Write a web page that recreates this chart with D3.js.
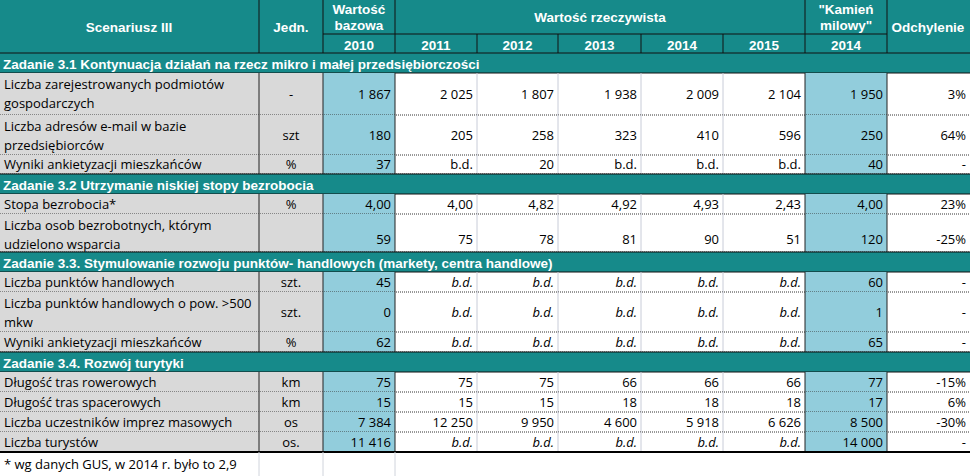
<!DOCTYPE html>
<html><head><meta charset="utf-8">
<script src="https://cdn.jsdelivr.net/npm/d3@7"></script>
<style>body{margin:0;background:#fff}</style></head><body>
<svg id="c" width="970" height="476"></svg>
<script>
const years = ["2010","2011","2012","2013","2014","2015","2014"];
const sections = ["Zadanie 3.1 Kontynuacja działań na rzecz mikro i małej przedsiębiorczości",
 "Zadanie 3.2 Utrzymanie niskiej stopy bezrobocia",
 "Zadanie 3.3. Stymulowanie rozwoju punktów- handlowych (markety, centra handlowe)",
 "Zadanie 3.4. Rozwój turytyki"];
const rowSection = [0,0,0,1,1,2,2,2,3,3,3,3];
const labels = [["Liczba zarejestrowanych podmiotów","gospodarczych"],["Liczba adresów e-mail w bazie","przedsiębiorców"],["Wyniki ankietyzacji mieszkańców"],
 ["Stopa bezrobocia*"],["Liczba osob bezrobotnych, którym","udzielono wsparcia"],
 ["Liczba punktów handlowych"],["Liczba punktów handlowych o pow. >500","mkw"],["Wyniki ankietyzacji mieszkańców"],
 ["Długość tras rowerowych"],["Długość tras spacerowych"],["Liczba uczestników imprez masowych"],["Liczba turystów"]];
const units = ["-","szt","%","%","","szt.","szt.","%","km","km","os","os."];
const base2010 = ["1 867","180","37","4,00","59","45","0","62","75","15","7 384","11 416"];
const v2011 = ["2 025","205","b.d.","4,00","75","b.d.","b.d.","b.d.","75","15","12 250","b.d."];
const v2012 = ["1 807","258","20","4,82","78","b.d.","b.d.","b.d.","75","15","9 950","b.d."];
const v2013 = ["1 938","323","b.d.","4,92","81","b.d.","b.d.","b.d.","66","18","4 600","b.d."];
const v2014 = ["2 009","410","b.d.","4,93","90","b.d.","b.d.","b.d.","66","18","5 918","b.d."];
const v2015 = ["2 104","596","b.d.","2,43","51","b.d.","b.d.","b.d.","66","18","6 626","b.d."];
const milestone = ["1 950","250","40","4,00","120","60","1","65","77","17","8 500","14 000"];
const deviation = ["3%","64%","-","23%","-25%","-","-","-","-15%","6%","-30%","-"];
const footnote = "* wg danych GUS, w 2014 r. było to 2,9";

const svg = d3.select("#c");
const colX = [0,259,323,395,477,558,641,723,805,887,970];
const TEAL="#168a8a", BLUE="#92cddc", GREY="#d9d9d9";
const rowH = [42,40,19,20,38,20,40,20,20,20,20,20];
const secH = 21;
let y = 53; const layout=[]; let last=-1;
rowSection.forEach((s,i)=>{
  if(s!==last){layout.push({type:"sec",s,y,h:secH-1}); y+=secH-1; last=s;}
  layout.push({type:"row",i,y,h:rowH[i]}); y+=rowH[i];
});
const yEnd = y;
const fontB = "'Liberation Sans',Arial,sans-serif";
const fontN = "'Open Sans',sans-serif";
function txt(x,y,t,o={}){return svg.append("text").attr("x",x).attr("y",y).text(t)
  .attr("font-family",o.f||fontN).attr("font-size",o.s||13).attr("font-weight",o.w||"normal")
  .attr("font-style",o.i?"italic":"normal").attr("fill",o.c||"#000").attr("text-anchor",o.a||"start");}
svg.append("rect").attr("x",0).attr("y",0).attr("width",970).attr("height",53).attr("fill",TEAL);
const hw={f:fontB,w:"bold",c:"#fff",s:13.5,a:"middle"};
txt(129,32,"Scenariusz III",hw); txt(291,32,"Jedn.",hw);
txt(359,14,"Wartość",hw); txt(359,30,"bazowa",hw);
txt(600,22,"Wartość rzeczywista",hw);
txt(846,14,"\"Kamień",hw); txt(846,30,"milowy\"",hw);
txt(928,32,"Odchylenie",hw);
years.forEach((yr,j)=>txt((colX[j+2]+colX[j+3])/2,50,yr,hw));
const hl=(x1,y1,x2,y2,c="#111",w=1,d=null)=>svg.append("line").attr("x1",x1).attr("y1",y1).attr("x2",x2).attr("y2",y2).attr("stroke",c).attr("stroke-width",w).attr("stroke-dasharray",d);
hl(323,34,887,34); hl(323,0,323,53); hl(395,0,395,53); hl(259,0,259,53); hl(887,0,887,53);hl(805,0,805,53);
[477,558,641,723].forEach(x=>hl(x,34,x,53));
const cols=[v2011,v2012,v2013,v2014,v2015];
layout.forEach(L=>{
  if(L.type==="sec"){
    svg.append("rect").attr("x",0).attr("y",L.y).attr("width",970).attr("height",L.h).attr("fill",TEAL);
    txt(3,L.y+15.5,sections[L.s],{f:fontB,w:"bold",c:"#fff",s:13.5});
    hl(0,L.y,970,L.y); hl(0,L.y+L.h,970,L.y+L.h);
    return;
  }
  const i=L.i, yb=L.y, h=L.h;
  svg.append("rect").attr("x",0).attr("y",yb).attr("width",323).attr("height",h).attr("fill",GREY);
  svg.append("rect").attr("x",323).attr("y",yb).attr("width",72).attr("height",h).attr("fill",BLUE);
  svg.append("rect").attr("x",805).attr("y",yb).attr("width",82).attr("height",h).attr("fill",BLUE);
  const ital = rowSection[i]>=2;
  const lb=labels[i];
  if(lb.length===2){txt(4,yb+16,lb[0]);txt(4,yb+35,lb[1]);} else txt(4,yb+h-5,lb[0]);
  const ty = lb.length===2 ? (i===4 ? yb+h-8 : yb+h/2+5) : yb+h-5;
  const uy = lb.length===2? yb+h/2+5 : ty;
  txt(291,uy,units[i],{a:"middle"});
  txt(391,ty,base2010[i],{a:"end"});
  cols.forEach((c,j)=>txt(colX[j+4]-4,ty,c[i],{a:"end",i:ital&&c[i]==="b.d."}));
  txt(883,ty,milestone[i],{a:"end"});
  txt(966,ty,deviation[i],{a:"end"});
  [477,558,641,723].forEach(x=>hl(x,yb,x,yb+h,"#c8ccd8"));
  [259,323,395,805,887].forEach(x=>hl(x,yb,x,yb+h,"#222"));
  hl(0,yb+h,970,yb+h,"#333",1,"1,1");
});
hl(0,yEnd,970,yEnd,"#000",2);
txt(4,yEnd+17,footnote);
[259,323,395].forEach(x=>hl(x,yEnd,x,476,"#d0d4dc"));
</script></body></html>
